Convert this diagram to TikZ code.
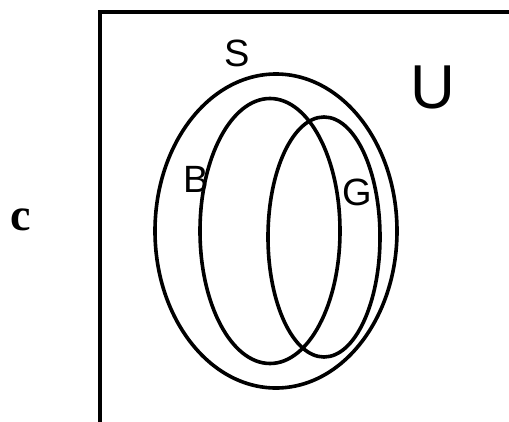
\documentclass[tikz,border=0pt]{standalone}
\usepackage{fontspec}
\setmainfont{Liberation Sans}
\newfontfamily\letterfont{Liberation Serif}
\usetikzlibrary{shapes.geometric}

\begin{document}
\begin{tikzpicture}[
x=1pt, y=-1pt,
set/.style={
draw,
ellipse,
line width=3.6pt,
inner sep=0pt
},
setname/.style={
inner sep=0pt,
font=\fontsize{38}{38}\selectfont
}
]

\useasboundingbox (0,0) rectangle (509,421);
\clip (0,0) rectangle (509,421);

% universe frame
\coordinate (UL) at (100,12);
\draw[line width=3.2pt] (100,440) -- (UL) -- (540,12);

\node[set, minimum width=242pt, minimum height=314pt] (S) at (276,231) {};
\node[set, minimum width=140pt, minimum height=265pt] (B) at (270,231) {};
\node[set, minimum width=112pt, minimum height=240pt] (G) at (324,237) {};

\node[setname] (Sl) at (237,53) {S};
\node[setname, font=\fontsize{62}{62}\selectfont] (Ul) at (433,87) {U};
\node[setname] (Bl) at (196,179) {B};
\node[setname] (Gl) at (357,192) {G};

\node[inner sep=0pt, font=\letterfont\fontsize{46}{46}\bfseries\selectfont] (c) at (21,220) {c};

\end{tikzpicture}
\end{document}
